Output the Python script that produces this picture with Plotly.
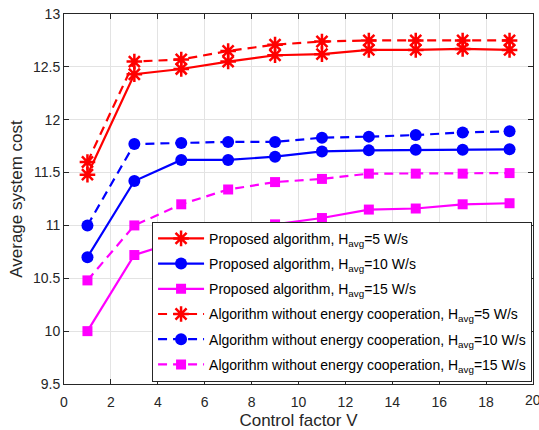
import plotly.graph_objects as go

V = [1, 3, 5, 7, 9, 11, 13, 15, 17, 19]

prop_h5 = [11.48, 12.43, 12.48, 12.55, 12.61, 12.62, 12.66, 12.66, 12.67, 12.66]
prop_h10 = [10.70, 11.42, 11.62, 11.62, 11.65, 11.70, 11.71, 11.715, 11.715, 11.72]
prop_h15 = [10.00, 10.72, 10.86, 10.95, 11.01, 11.07, 11.15, 11.16, 11.20, 11.21]
noc_h5 = [11.60, 12.55, 12.57, 12.65, 12.71, 12.74, 12.75, 12.75, 12.75, 12.75]
noc_h10 = [11.00, 11.77, 11.78, 11.79, 11.79, 11.83, 11.84, 11.855, 11.88, 11.89]
noc_h15 = [10.48, 11.00, 11.20, 11.34, 11.41, 11.44, 11.49, 11.49, 11.49, 11.495]

x_ticks = list(range(0, 21, 2))
x_ticktext = [str(v) for v in x_ticks]
y_ticks = [9.5, 10, 10.5, 11, 11.5, 12, 12.5, 13]
y_ticktext = ["9.5", "10", "10.5", "11", "11.5", "12", "12.5", "13"]

names = [
    "Proposed algorithm, H<sub>avg</sub>=5 W/s",
    "Proposed algorithm, H<sub>avg</sub>=10 W/s",
    "Proposed algorithm, H<sub>avg</sub>=15 W/s",
    "Algorithm without energy cooperation, H<sub>avg</sub>=5 W/s",
    "Algorithm without energy cooperation, H<sub>avg</sub>=10 W/s",
    "Algorithm without energy cooperation, H<sub>avg</sub>=15 W/s",
]
series = [prop_h5, prop_h10, prop_h15, noc_h5, noc_h10, noc_h15]
colors = ["#FF0000", "#0000FF", "#FF00FF"] * 2
symbols = ["asterisk-open", "circle", "square"] * 2
sizes = [13, 12, 10] * 2
dashes = ["solid"] * 3 + ["9px,6px"] * 3

fig = go.Figure()
for i, (name, ys, c, s, sz, d) in enumerate(zip(names, series, colors, symbols, sizes, dashes)):
    if s == "asterisk-open":
        mk = dict(symbol=s, size=sz, color=c, line=dict(color=c, width=2.5))
    else:
        mk = dict(symbol=s, size=sz, color=c, line=dict(color=c, width=0))
    fig.add_trace(go.Scatter(
        x=V, y=ys, mode="lines+markers", name=name, legendgroup=f"g{i}",
        line=dict(color=c, width=2.2, dash=d),
        marker=mk,
    ))

tick_font = dict(family="Liberation Sans, Arial", size=14, color="#262626")
axis_common = dict(
    showline=True, linecolor="#262626", linewidth=1, mirror="ticks",
    ticks="inside", ticklen=5, tickcolor="#262626",
    showgrid=True, gridcolor="#E3E3E3", gridwidth=1,
    zeroline=False, ticklabeloverflow="allow", automargin=False,
    tickfont=tick_font,
)

# last x tick label overflows the page edge (as in the reference); draw it as an annotation
x_ticktext_drawn = x_ticktext[:-1] + [""]

fig.update_layout(
    width=539, height=430,
    margin=dict(l=64, r=5.5, t=14, b=45.7),
    paper_bgcolor="white", plot_bgcolor="white",
    font=dict(family="Liberation Sans, Arial", color="#262626"),
    xaxis=dict(range=[0, 20], tickmode="array", tickvals=x_ticks, ticktext=x_ticktext_drawn,
               title=dict(text="Control factor V", font=dict(size=17), standoff=9),
               ticklabelstandoff=5,
               **axis_common),
    yaxis=dict(range=[9.5, 13], tickmode="array",
               tickvals=y_ticks, ticktext=y_ticktext,
               title=dict(text="Average system cost", font=dict(size=17), standoff=6),
               **axis_common),
    legend=dict(
        x=0.998, y=0.006, xanchor="right", yanchor="bottom",
        bgcolor="white", bordercolor="#262626", borderwidth=1,
        font=dict(family="Liberation Sans, Arial", size=14, color="#000000"),
        itemwidth=46, tracegroupgap=4,
    ),
    annotations=[dict(
        x=x_ticks[-1], xref="x", y=0, yref="paper", yanchor="top", xanchor="center",
        text=x_ticktext[-1], showarrow=False, font=tick_font, yshift=-6,
    )],
    showlegend=True,
)

fig.write_html("out.html")
